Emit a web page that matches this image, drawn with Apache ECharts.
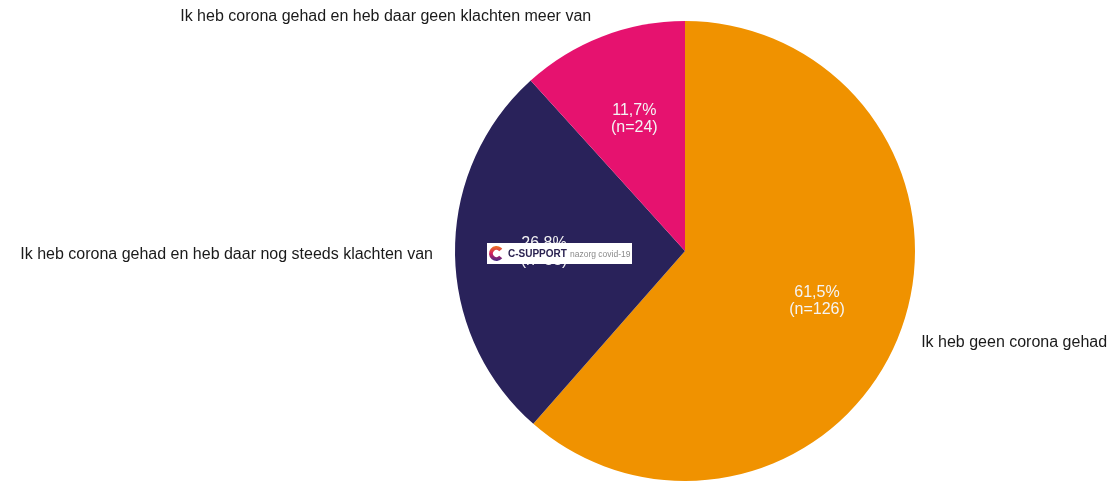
<!DOCTYPE html>
<html>
<head>
<meta charset="utf-8">
<script src="https://cdn.jsdelivr.net/npm/echarts@6/dist/echarts.min.js"></script>
<style>html,body{margin:0;padding:0;background:#fff}#c{width:1113px;height:481px}</style>
</head>
<body>
<div id="c"></div>
<script>
const categories = ['Ik heb geen corona gehad', 'Ik heb corona gehad en heb daar nog steeds klachten van', 'Ik heb corona gehad en heb daar geen klachten meer van'];
const counts = [126, 55, 24];
const percentLabels = ['61,5%', '26,8%', '11,7%'];
const colors = ['#F09200', '#29225A', '#E6126F'];
const labelNudge = [[0, 5], [0, 2], [0, -4]];

const chart = echarts.init(document.getElementById('c'));
const dataMain = categories.map((c, i) => ({ name: c, value: counts[i], itemStyle: { color: colors[i] }, label: { offset: labelNudge[i] } }));
const dataInner = categories.map((c, i) => ({ name: c, value: counts[i] }));

chart.setOption({
  animation: false,
  series: [
    {
      type: 'pie',
      center: [685, 251],
      radius: [0, 230],
      startAngle: 90,
      clockwise: true,
      avoidLabelOverlap: false,
      data: dataMain,
      label: {
        show: true,
        position: 'outside',
        formatter: '{b}',
        fontFamily: 'Arial, Liberation Sans, sans-serif',
        fontSize: 16,
        color: '#1a1a1a'
      },
      labelLine: { show: false, length: 17, length2: 0 },
      itemStyle: { borderWidth: 0 },
      emphasis: { disabled: true }
    },
    {
      type: 'pie',
      center: [685, 251],
      radius: [0, 276],
      startAngle: 90,
      clockwise: true,
      silent: true,
      data: dataInner,
      itemStyle: { color: 'transparent', borderWidth: 0 },
      label: {
        show: true,
        position: 'inside',
        formatter: (p) => percentLabels[p.dataIndex] + '\n(n=' + p.value + ')',
        fontFamily: 'Arial, Liberation Sans, sans-serif',
        fontSize: 16,
        lineHeight: 17,
        color: '#f4f4f4'
      },
      labelLine: { show: false },
      emphasis: { disabled: true }
    }
  ],
  graphic: [
    { type: 'rect', z: 100, shape: { x: 487, y: 243, width: 145, height: 21 }, style: { fill: '#ffffff' } },
    {
      type: 'arc', z: 101,
      shape: { cx: 496.5, cy: 253.5, r: 5.5, startAngle: Math.PI * 0.22, endAngle: Math.PI * 1.78, clockwise: true },
      style: {
        fill: null,
        lineWidth: 4,
        stroke: { type: 'linear', x: 0, y: 0, x2: 0, y2: 1, colorStops: [
          { offset: 0, color: '#EE7A1E' },
          { offset: 0.5, color: '#D21F5E' },
          { offset: 1, color: '#3A2A8A' }
        ] }
      }
    },
    { type: 'text', z: 101, style: { x: 508, y: 254, text: 'C-SUPPORT', fill: '#2A2250', font: 'bold 10px Arial, Liberation Sans, sans-serif', verticalAlign: 'middle' } },
    { type: 'text', z: 101, style: { x: 570, y: 254.5, text: 'nazorg covid-19', fill: '#8a8a8a', font: '8.5px Arial, Liberation Sans, sans-serif', verticalAlign: 'middle' } }
  ]
});
</script>
</body>
</html>
